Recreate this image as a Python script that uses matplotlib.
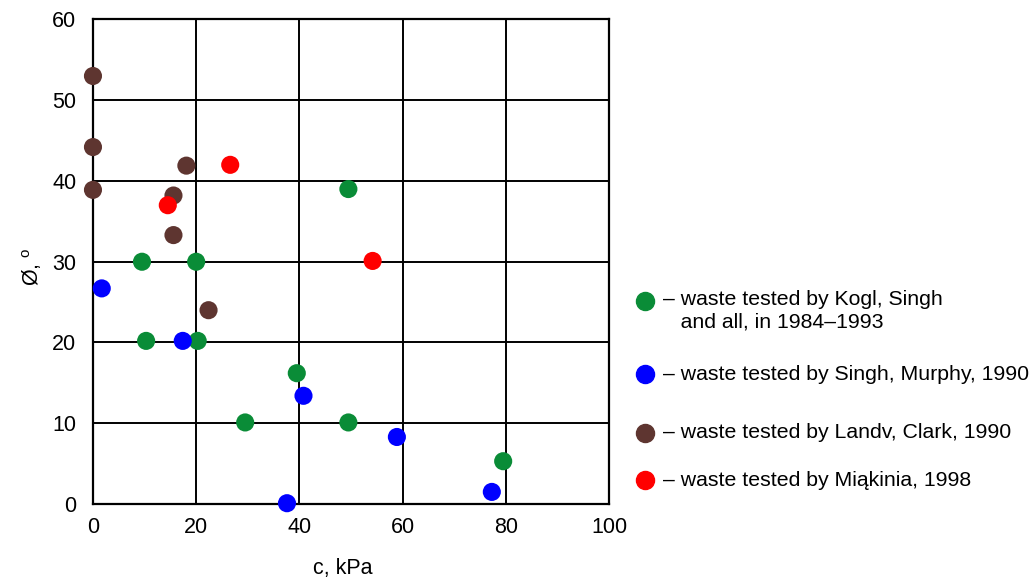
import matplotlib
matplotlib.use("Agg")
import matplotlib.pyplot as plt
from matplotlib.lines import Line2D

plt.rcParams['font.family'] = ['Liberation Sans', 'DejaVu Sans']

# data: c [kPa], friction angle [deg]
kogl_c = [9.5, 20, 10.3, 20.3, 49.5, 39.5, 29.5, 49.5, 79.5]
kogl_phi = [30, 30, 20.2, 20.2, 39, 16.2, 10.1, 10.1, 5.3]
singh_c = [1.7, 17.4, 40.8, 58.9, 77.3, 37.6]
singh_phi = [26.7, 20.2, 13.4, 8.3, 1.5, 0.1]
landv_c = [0, 0, 0, 18.1, 15.6, 15.6, 22.4]
landv_phi = [53, 44.2, 38.9, 41.9, 38.2, 33.3, 24]
miak_c = [14.5, 26.6, 54.2]
miak_phi = [37, 42, 30.1]

labels = ['– waste tested by Kogl, Singh\n   and all, in 1984–1993',
          '– waste tested by Singh, Murphy, 1990',
          '– waste tested by Landv, Clark, 1990',
          '– waste tested by Miąkinia, 1998']
colors = ['#0a8c37', '#0000ff', '#5e3530', '#ff0000']

fig = plt.figure(figsize=(10.33, 5.81), dpi=100)
ax = fig.add_axes([0.090, 0.1325, 0.4995, 0.834])

series = [(kogl_c, kogl_phi), (singh_c, singh_phi), (landv_c, landv_phi), (miak_c, miak_phi)]
for (xs, ys), col in zip(series, colors):
    ax.scatter(xs, ys, s=170, color=col, edgecolors='none', zorder=3, clip_on=False)

ax.set_xlim(0, 100)
ax.set_ylim(0, 60)
ax.set_xticks(range(0, 101, 20))
ax.set_yticks(range(0, 61, 10))
ax.grid(True, color='black', linewidth=1.4)
for s in ax.spines.values():
    s.set_linewidth(1.6)
ax.tick_params(length=0, labelsize=15.5)
ax.tick_params(axis='x', pad=9)
ax.tick_params(axis='y', pad=12)
ax.set_xlabel('c, kPa', fontsize=15.5)
ax.set_ylabel('Ø, $^{\\mathregular{o}}$', fontsize=15.5)
ax.xaxis.set_label_coords(0.485, -0.112)
ax.yaxis.set_label_coords(-0.095, 0.49)

# legend drawn by hand (uneven spacing in the original)
W, H = 1033, 581
leg_y = [301, 374, 433, 480]
for y, col, lab in zip(leg_y, colors, labels):
    fig.add_artist(Line2D([645 / W], [1 - y / H], marker='o', markersize=13,
                          color=col, linestyle='none', transform=fig.transFigure))
    fig.text(663 / W, 1 - y / H, lab, fontsize=15.3, va='top' if '\n' in lab else 'center',
             linespacing=1.25, transform=fig.transFigure)

fig.texts[0].set_y(1 - 290 / H)

fig.savefig('out.png', dpi=100)
